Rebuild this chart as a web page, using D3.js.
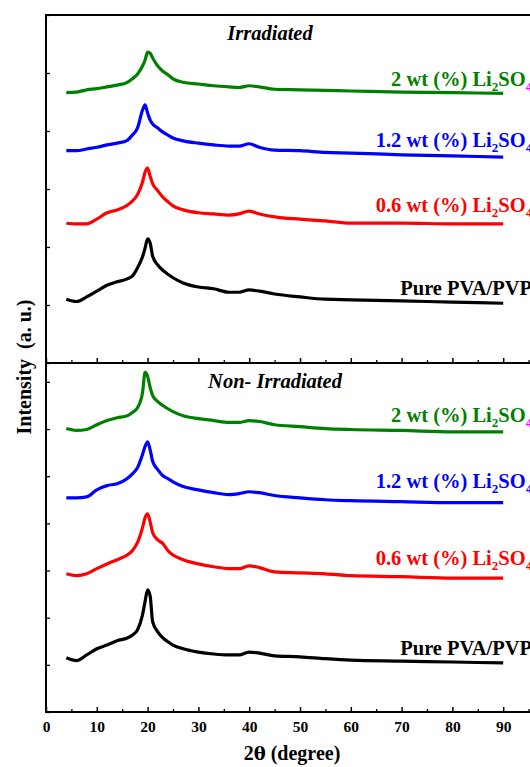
<!DOCTYPE html>
<html>
<head>
<meta charset="utf-8">
<script src="https://cdn.jsdelivr.net/npm/d3@7"></script>
<style>
  body { margin: 0; background: #fff; }
  text { font-family: "Liberation Serif", "Times New Roman", serif; font-weight: bold; }
</style>
</head>
<body>
<script>

// 2theta sample points (degree), shared by every pattern
var angle = [4, 6, 8, 10, 12, 14, 16, 17, 18, 19, 19.5, 20, 20.5, 21, 22, 23, 24, 25, 27, 30,
             33, 36, 38, 40, 42, 45, 50, 55, 60, 70, 80, 90];

// irradiated films (stacked, a.u.)
var irrPure = [1100, 1060, 1140, 1240, 1340, 1400, 1450, 1500, 1640, 1830, 1980, 2140, 2070, 1840, 1690, 1600,
               1530, 1470, 1380, 1310, 1280, 1220, 1220, 1260, 1240, 1190, 1140, 1100, 1090, 1070, 1050, 1030];
var irr06 = [2410, 2400, 2400, 2480, 2590, 2640, 2720, 2790, 2900, 3120, 3290, 3360, 3220, 3090, 2970, 2860,
             2780, 2710, 2640, 2590, 2570, 2550, 2570, 2620, 2570, 2520, 2480, 2450, 2410, 2410, 2400, 2400];
var irr12 = [3660, 3660, 3690, 3720, 3760, 3790, 3840, 3930, 4050, 4360, 4450, 4310, 4190, 4120, 4050, 3980,
             3930, 3880, 3830, 3790, 3760, 3740, 3740, 3780, 3720, 3670, 3660, 3630, 3620, 3590, 3570, 3550];
var irr2 = [4660, 4670, 4710, 4730, 4760, 4790, 4840, 4900, 4980, 5120, 5220, 5360, 5340, 5260, 5120, 5030,
            4970, 4900, 4840, 4810, 4780, 4760, 4750, 4780, 4760, 4720, 4710, 4700, 4690, 4670, 4660, 4650];

// non-irradiated films (stacked, a.u.)
var nonPure = [1150, 1090, 1210, 1340, 1420, 1510, 1570, 1630, 1740, 2060, 2340, 2590, 2460, 1910, 1700, 1570,
               1490, 1420, 1340, 1270, 1230, 1210, 1210, 1270, 1250, 1190, 1170, 1130, 1100, 1080, 1060, 1040];
var non06 = [2930, 2890, 2930, 3040, 3140, 3230, 3330, 3420, 3590, 3910, 4120, 4200, 4030, 3800, 3650, 3570,
             3420, 3330, 3230, 3140, 3080, 3040, 3040, 3100, 3060, 2970, 2950, 2930, 2890, 2870, 2840, 2840];
var non12 = [4540, 4540, 4560, 4710, 4800, 4840, 4950, 5050, 5180, 5460, 5630, 5730, 5560, 5310, 5140, 5010,
             4950, 4880, 4780, 4710, 4650, 4610, 4630, 4670, 4650, 4590, 4540, 4500, 4480, 4460, 4440, 4440];
var non2 = [6010, 5970, 5990, 6090, 6180, 6240, 6280, 6350, 6450, 6770, 7200, 7120, 6880, 6710, 6580, 6500,
            6430, 6370, 6280, 6220, 6180, 6140, 6140, 6180, 6160, 6090, 6050, 6010, 5990, 5970, 5940, 5940];

var xTicks = [0, 10, 20, 30, 40, 50, 60, 70, 80, 90];
var xMinor = [5, 15, 25, 35, 45, 55, 65, 75, 85, 95];
var colors = ['black', 'red', 'blue', 'green'];
var labelMain = ['Pure PVA/PVP', '0.6 wt (%) Li', '1.2 wt (%) Li', '2 wt (%) Li'];
var subFour = ['', 'red', 'blue', '#ff00ff'];   // colour of the final "4"

var W = 530, H = 767;
var mLeft = 46, mTop = 15, mMid = 363, mBottom = 712;

var svg = d3.select('body').append('svg')
            .attr('width', W)
            .attr('height', H);

var x = d3.scaleLinear().domain([0, 100]).range([mLeft, mLeft + 508]);

var panels = [
  {title: 'Irradiated', titleX: 270, titleY: 40, y: d3.scaleLinear().domain([0, 6000]).range([mMid, mTop]),
   series: [irrPure, irr06, irr12, irr2], lift: [8, 12, 10, 7], yTicks: d3.range(0, 6001, 1000)},
  {title: 'Non- Irradiated', titleX: 275, titleY: 388, y: d3.scaleLinear().domain([0, 7400]).range([mBottom, mMid]),
   series: [nonPure, non06, non12, non2], lift: [8, 13, 15, 10], yTicks: d3.range(0, 7001, 1000)}
];

panels.forEach(function(p, pi) {
  var g = svg.append('g');

  // y ticks, pointing inward
  g.append('g')
   .attr('transform', 'translate(' + mLeft + ',0)')
   .call(d3.axisRight(p.y).tickValues(p.yTicks).tickSize(4).tickFormat(''))
   .call(function(a) { a.select('.domain').remove(); })
   .selectAll('line').attr('stroke-width', 1.3);

  var line = d3.line()
               .x(function(d, i) { return x(angle[i]); })
               .y(function(d) { return p.y(d); })
               .curve(d3.curveMonotoneX);

  p.series.forEach(function(s, si) {
    g.append('path')
     .datum(s)
     .attr('d', line)
     .attr('fill', 'none')
     .attr('stroke', colors[si])
     .attr('stroke-width', 3.2)
     .attr('stroke-linejoin', 'round');

    var t = g.append('text')
             .attr('x', x(95.7))
             .attr('y', p.y(s[s.length - 1]) - p.lift[si])
             .attr('text-anchor', 'end')
             .attr('font-size', 20.5)
             .attr('fill', colors[si]);
    t.append('tspan').text(labelMain[si]);
    if (si > 0) {
      t.append('tspan').attr('font-size', 13).attr('dy', 5).text('2');
      t.append('tspan').attr('dy', -5).text('SO');
      t.append('tspan').attr('font-size', 13).attr('dy', 5).attr('fill', subFour[si]).text('4');
    }
  });

  g.append('text')
   .attr('x', p.titleX)
   .attr('y', p.titleY)
   .attr('text-anchor', 'middle')
   .attr('font-size', 20.5)
   .attr('font-style', 'italic')
   .text(p.title);

  // x ticks on the lower edge of each panel, pointing up
  var base = p.y.range()[0];
  var ax = d3.axisBottom(x).tickValues(xTicks).tickSizeInner(-5).tickSizeOuter(0).tickPadding(9);
  if (pi === 0) ax.tickFormat('');
  var gx = g.append('g')
            .attr('transform', 'translate(0,' + base + ')')
            .call(ax);
  gx.select('.domain').remove();
  gx.selectAll('line').attr('stroke-width', 1.5);
  gx.selectAll('text').attr('font-size', 15.5).attr('font-family', '"Liberation Serif", serif');

  g.append('g')
   .attr('transform', 'translate(0,' + base + ')')
   .call(d3.axisBottom(x).tickValues(xMinor).tickSizeInner(-3).tickSizeOuter(0).tickFormat(''))
   .call(function(a) { a.select('.domain').remove(); })
   .selectAll('line').attr('stroke-width', 1.3);
});

// frame
var frame = svg.append('g').attr('stroke', 'black').attr('stroke-width', 2).attr('fill', 'none');
frame.append('rect').attr('x', mLeft).attr('y', mTop).attr('width', x(100) - mLeft).attr('height', mBottom - mTop);
frame.append('line').attr('x1', mLeft).attr('x2', x(100)).attr('y1', mMid).attr('y2', mMid);

// axis titles
var xt = svg.append('text')
   .attr('x', 292)
   .attr('y', 760)
   .attr('text-anchor', 'middle')
   .attr('font-size', 20);
xt.append('tspan').text('2');
xt.append('tspan').attr('font-family', '"DejaVu Serif", serif').attr('font-size', 18).text('θ');
xt.append('tspan').text(' (degree)');

svg.append('text')
   .attr('transform', 'translate(31,367)rotate(-90)')
   .attr('text-anchor', 'middle')
   .attr('font-size', 20)
   .style('white-space', 'pre')
   .text('Intensity  (a. u.)');

</script>
</body>
</html>
